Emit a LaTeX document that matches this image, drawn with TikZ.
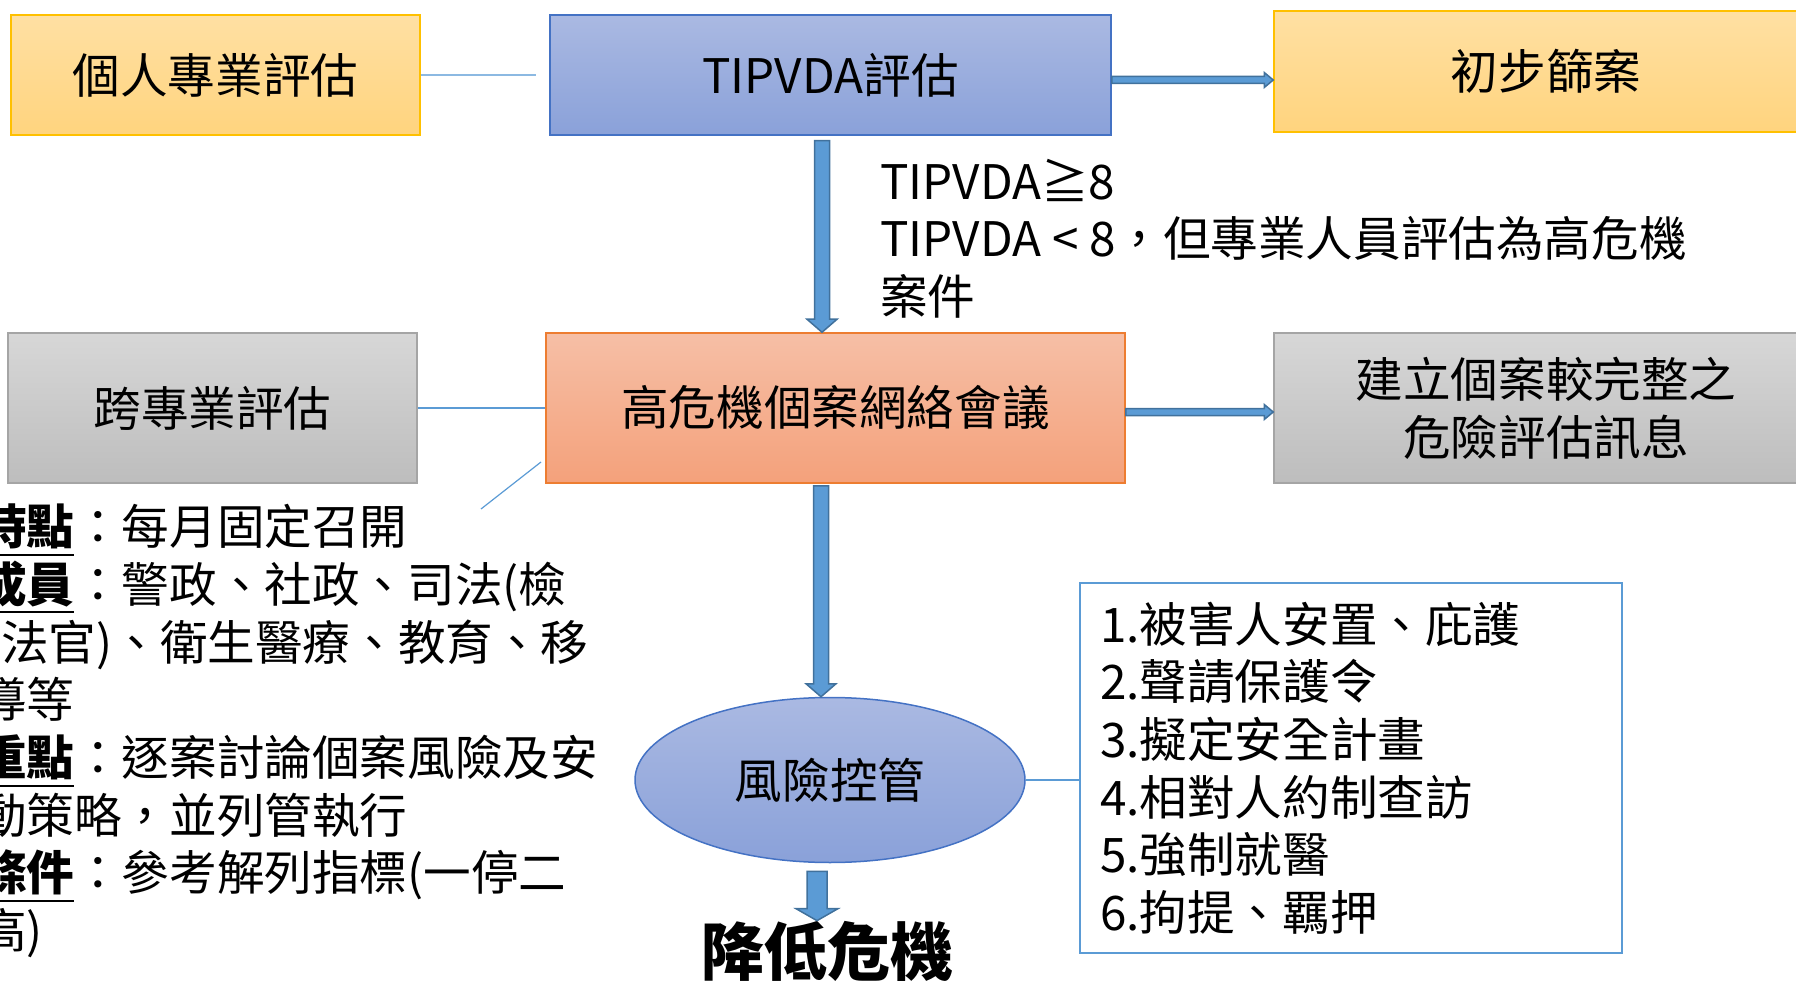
\documentclass[tikz,border=0pt]{standalone}
\usepackage{fontspec}
\setmainfont{Noto Sans CJK TC}
\usepackage{tikz}
\usetikzlibrary{shapes.geometric, calc, positioning}

\definecolor{yellowtop}{HTML}{FFE0A3}
\definecolor{yellowbot}{HTML}{FFD47E}
\definecolor{yellowline}{HTML}{FFC000}
\definecolor{bluetop}{HTML}{AAB9E2}
\definecolor{bluebot}{HTML}{8AA1D9}
\definecolor{blueline}{HTML}{4472C4}
\definecolor{salmontop}{HTML}{F6BFA6}
\definecolor{salmonbot}{HTML}{F4A17B}
\definecolor{salmonline}{HTML}{ED7D31}
\definecolor{graytop}{HTML}{D7D7D7}
\definecolor{graybot}{HTML}{BDBDBD}
\definecolor{grayline}{HTML}{A5A5A5}
\definecolor{linkblue}{HTML}{5B9BD5}
\definecolor{arrowline}{HTML}{41719C}

\tikzset{
  bigtext/.style={font=\fontsize{47.6pt}{57.7pt}\selectfont},
  flowbox/.style={bigtext, draw, line width=1.5pt, inner sep=0pt, align=center},
  yellowbox/.style={flowbox, draw=yellowline, top color=yellowtop, bottom color=yellowbot},
  bluebox/.style={flowbox, draw=blueline, top color=bluetop, bottom color=bluebot},
  salmonbox/.style={flowbox, draw=salmonline, top color=salmontop, bottom color=salmonbot},
  graybox/.style={flowbox, draw=grayline, top color=graytop, bottom color=graybot},
  link/.style={draw=linkblue, line width=1.5pt},
  blockarrow/.style={fill=linkblue, draw=arrowline, line width=1.5pt, line join=miter}
}

% block arrow: from, to, shaft half width, head half width, head length
\newcommand{\blockarrow}[5]{%
  \filldraw[blockarrow]
    ($(#1)!#3!90:(#2)$) -- ($(#2)!#5!(#1)!#3!90:(#2)$)
    -- ($(#2)!#5!(#1)!#4!90:(#2)$) -- (#2)
    -- ($(#2)!#5!(#1)!#4!-90:(#2)$) -- ($(#2)!#5!(#1)!#3!-90:(#2)$)
    -- ($(#1)!#3!-90:(#2)$) -- cycle;
}
\newcommand{\uword}[1]{\setbox0\hbox{\textbf{#1}}\rlap{\rule[-11pt]{\wd0}{2pt}}\box0}

\begin{document}
\begin{tikzpicture}[x=1pt, y=-1pt]
    \useasboundingbox (0,0) rectangle (1796,981);
    \clip (0,0) rectangle (1796,981);

    % Top row
    \node[yellowbox, minimum width=409pt, minimum height=120pt] (personal) at (215.5,75) {個人專業評估};
    \node[bluebox, minimum width=561pt, minimum height=120pt] (tipvda) at (830.5,75) {TIPVDA評估};
    \node[yellowbox, minimum width=544pt, minimum height=121pt] (screen) at (1546,71.5) {初步篩案};

    % Middle row
    \node[graybox, minimum width=409pt, minimum height=150pt] (cross) at (212.5,408) {跨專業評估};
    \node[salmonbox, minimum width=579pt, minimum height=150pt] (meeting) at (835.5,408) {高危機個案網絡會議};
    \node[graybox, minimum width=544pt, minimum height=150pt] (info) at (1546,408) {建立個案較完整之\\危險評估訊息};

    % Risk control
    \node[ellipse, bigtext, draw=blueline, line width=1.5pt, top color=bluetop, bottom color=bluebot,
          minimum width=390pt, minimum height=165pt, inner sep=0pt] (risk) at (830,780) {風險控管};
    \node[bigtext, draw=linkblue, line width=2.5pt, fill=white, align=left, text width=502pt,
          inner xsep=20pt, minimum height=370pt] (measures) at (1351,768)
        {1.被害人安置、庇護\\2.聲請保護令\\3.擬定安全計畫\\4.相對人約制查訪\\5.強制就醫\\6.拘提、羈押};
    \node[font=\bfseries\fontsize{63pt}{70pt}\selectfont, inner sep=0pt] (lower) at (827,951) {降低危機};

    % Texts
    \node[bigtext, anchor=west, align=left, inner sep=0pt] (rule) at (880,238.5)
        {TIPVDA≧8\\TIPVDA < 8，但專業人員評估為高危機\\案件};
    \node[bigtext, anchor=west, align=left, inner sep=0pt] (notes) at (-21,731)
        {\uword{時點}：每月固定召開\\
         \uword{成員}：警政、社政、司法(檢\\
         \hspace*{22pt}法官)、衛生醫療、教育、移\\
         導等\\
         \uword{重點}：逐案討論個案風險及安\\
         動策略，並列管執行\\
         \uword{條件}：參考解列指標(一停二\\
         高)};

    % Thin links
    \coordinate (tipvdagap) at ([xshift=-13pt]tipvda.west);
    \draw[link, draw=linkblue!70] (personal.east) -- (tipvdagap);
    \draw[link] (cross.east) -- (meeting.west);
    \draw[link] (risk.east) -- (risk.east -| measures.west);
    \coordinate (callfrom) at (541,462);
    \coordinate (callto) at (481,509);
    \draw[link, line width=1.2pt] (callfrom) -- (callto);

    % Block arrows
    \coordinate (a1s) at ([xshift=-8.5pt,yshift=-5pt]tipvda.south);
    \coordinate (a1e) at ([xshift=-13.5pt]meeting.north);
    \blockarrow{a1s}{a1e}{7.5pt}{15pt}{13pt}
    \coordinate (a2s) at ([yshift=-5pt]tipvda.east);
    \coordinate (a2e) at ([yshift=-5pt]tipvda.east -| screen.west);
    \blockarrow{a2s}{a2e}{3.5pt}{7.5pt}{9pt}
    \coordinate (a3s) at ([yshift=-4pt]meeting.east);
    \coordinate (a3e) at ([yshift=-4pt]meeting.east -| info.west);
    \blockarrow{a3s}{a3e}{3.5pt}{7.5pt}{9pt}
    \coordinate (a4s) at ([xshift=-14.5pt,yshift=-2pt]meeting.south);
    \coordinate (a4e) at ([xshift=-9pt]risk.north);
    \blockarrow{a4s}{a4e}{7.5pt}{15pt}{13pt}
    \coordinate (a5s) at ([xshift=-13pt,yshift=-8pt]risk.south);
    \coordinate (a5e) at ([xshift=-10pt]lower.north);
    \blockarrow{a5s}{a5e}{10pt}{21pt}{12pt}
\end{tikzpicture}
\end{document}
